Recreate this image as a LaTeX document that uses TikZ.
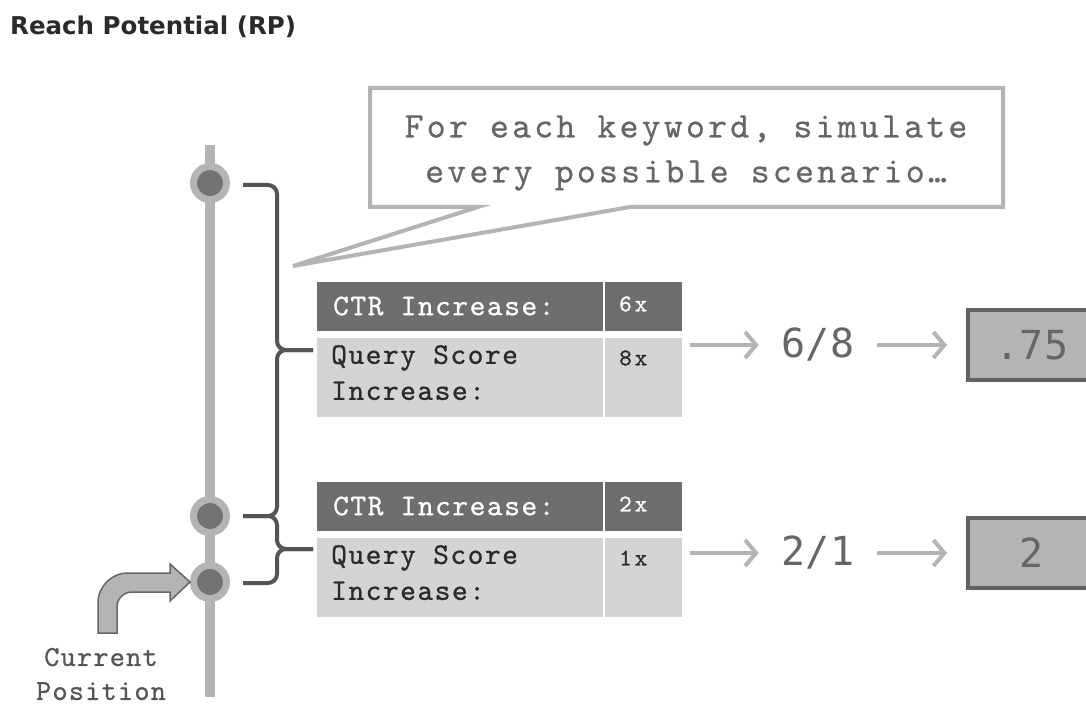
\documentclass[tikz,border=0pt]{standalone}
\usepackage{fontspec}
\setmainfont{DejaVu Sans}
\newfontfamily\dmono{DejaVu Sans Mono}
\newfontfamily\lmCall{lmmono10-regular}[Extension=.otf, LetterSpace=9, FakeBold=0.6]
\newfontfamily\lmTab{lmmono10-regular}[Extension=.otf, LetterSpace=5, FakeBold=0.8]
\newfontfamily\lmCur{lmmono10-regular}[Extension=.otf, LetterSpace=4, FakeBold=0.6]
\newfontfamily\lmVal{lmmono10-regular}[Extension=.otf, LetterSpace=12, FakeBold=0.8]
\usetikzlibrary{arrows.meta}
\definecolor{lgray}{HTML}{B4B4B4}
\definecolor{dotc}{HTML}{727272}
\definecolor{bracec}{HTML}{555555}
\definecolor{hdrc}{HTML}{6E6E6E}
\definecolor{rowc}{HTML}{D4D4D4}
\definecolor{boxb}{HTML}{626262}
\definecolor{txtg}{HTML}{666666}
\definecolor{bodyt}{HTML}{2A2A2A}
\tikzset{
  dot/.style={circle, fill=dotc, draw=lgray, line width=7, minimum size=33, inner sep=0},
  bracepath/.style={draw=bracec, line width=4, rounded corners=9},
  hcell/.style={fill=hdrc, anchor=north west, minimum height=49, inner sep=0},
  bcell/.style={fill=rowc, anchor=north west, minimum height=79, inner sep=0},
  htext/.style={anchor=west, text=white, font=\lmTab\fontsize{30}{36}\selectfont, inner sep=0},
  btext/.style={anchor=north west, text=bodyt, align=left, font=\lmTab\fontsize{30}{36}\selectfont, inner sep=0},
  vhtext/.style={anchor=west, text=white, font=\lmVal\fontsize{24}{30}\selectfont, inner sep=0},
  vbtext/.style={anchor=west, text=bodyt, font=\lmVal\fontsize{24}{30}\selectfont, inner sep=0},
  frac/.style={text=txtg, font=\dmono\fontsize{40}{48}\selectfont, inner xsep=23, inner ysep=2},
  resbox/.style={fill=lgray, draw=boxb, line width=4, minimum width=128, minimum height=70, text=txtg, font=\dmono\fontsize{40}{48}\selectfont},
  garrow/.style={draw=lgray, line width=4, -{Straight Barb[length=11, width=26]}},
}
\begin{document}
\begin{tikzpicture}[x=1pt,y=-1pt]
\useasboundingbox (0,0) rectangle (1086,708);
\clip (0,0) rectangle (1086,708);
\fill[white] (0,0) rectangle (1086,708);

% title
\node[anchor=west, inner sep=0, text=bodyt, font=\bfseries\fontsize{24.5}{30}\selectfont] (title) at (10,27) {Reach Potential (RP)};

% callout
\coordinate (callc) at (686,153);
\draw[lgray, line width=4, line join=miter, fill=white] (370,88) -- (1003,88) -- (1003,207) -- (630,207) -- (293,266) -- (478,207) -- (370,207) -- cycle;
\node[inner sep=0, text=txtg, align=center, font=\lmCall\fontsize{36}{45}\selectfont] (call) at (callc) {For each keyword, simulate\\every possible scenario…};

% timeline
\coordinate (ltop) at (210,145);
\coordinate (lbot) at (210,697);
\draw[lgray, line width=10] (ltop) -- (lbot);
\node[dot] (c1) at (210,183) {};
\node[dot] (c2) at (210,516) {};
\node[dot] (c3) at (210,582) {};

% braces
\draw[bracepath] (243,185) -- (277,185) -- (277,350) -- (313,350);
\draw[bracepath] (243,516) -- (277,516) -- (277,350) -- (313,350);
\draw[bracepath] (243,516) -- (277,516) -- (277,549) -- (313,549);
\draw[bracepath] (243,583) -- (277,583) -- (277,549) -- (313,549);

% table 1
\node[hcell, minimum width=286] (t1ha) at (317,282) {};
\node[hcell, minimum width=77] (t1hb) at (605,282) {};
\node[bcell, minimum width=286] (t1ba) at (317,338) {};
\node[bcell, minimum width=77] (t1bb) at (605,338) {};
\node[htext] at (333,306) {CTR Increase:};
\node[vhtext] at (619,304) {6x};
\node[btext] at (331,345) {Query Score\\Increase:};
\node[vbtext] at (619,358) {8x};

% table 2
\node[hcell, minimum width=286] (t2ha) at (317,482) {};
\node[hcell, minimum width=77] (t2hb) at (605,482) {};
\node[bcell, minimum width=286] (t2ba) at (317,538) {};
\node[bcell, minimum width=77] (t2bb) at (605,538) {};
\node[htext] at (333,506) {CTR Increase:};
\node[vhtext] at (619,504) {2x};
\node[btext] at (331,545) {Query Score\\Increase:};
\node[vbtext] at (619,558) {1x};

% fractions and results
\node[frac] (f1) at (818,345) {6/8};
\node[frac] (f2) at (818,553) {2/1};
\node[resbox, anchor=west] (r1) at (966,345) {.75};
\node[resbox, anchor=west] (r2) at (966,553) {2};

\draw[garrow] ([xshift=8]t1bb.east |- f1.center) -- (f1.west);
\draw[garrow, shorten >=19] (f1.east) -- (r1.west);
\draw[garrow] ([xshift=8]t2bb.east |- f2.center) -- (f2.west);
\draw[garrow, shorten >=19] (f2.east) -- (r2.west);

% current position
\draw[fill=lgray, draw=txtg, line width=1.5, line join=miter]
  (98,633) -- (98,603) arc[start angle=180, end angle=270, radius=30] -- (170,573) -- (170,564)
  -- (c3.west) -- (170,601) -- (170,592) -- (132,592) arc[start angle=270, end angle=180, radius=15] -- (117,633) -- cycle;
\node[inner sep=0, text=bracec, align=center, font=\lmCur\fontsize{29}{34}\selectfont] (cur) at (101,674) {Current\\Position};
\end{tikzpicture}
\end{document}
